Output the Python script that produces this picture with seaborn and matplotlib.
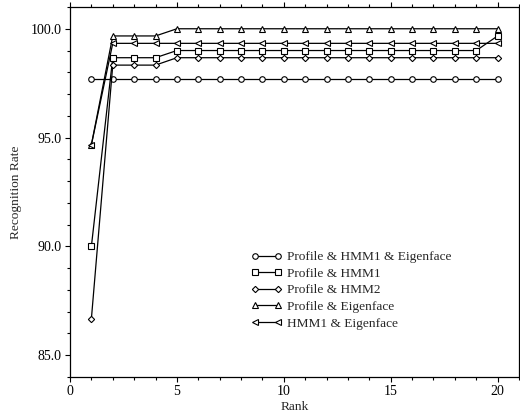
import numpy as np
import pandas as pd
import matplotlib
matplotlib.use("Agg")
import matplotlib.pyplot as plt
import seaborn as sns
from matplotlib.ticker import MultipleLocator, FormatStrFormatter

ranks = list(range(1, 21))

profile_hmm1_eigen = [97.67] * 20
profile_hmm1 = [90.0, 98.67, 98.67, 98.67] + [99.0] * 15 + [99.67]
profile_hmm2 = [86.67, 98.33, 98.33, 98.33] + [98.67] * 16
profile_eigen = [94.67, 99.67, 99.67, 99.67] + [100.0] * 16
hmm1_eigen = [94.67] + [99.33] * 19

series_names = ["Profile & HMM1 & Eigenface", "Profile & HMM1", "Profile & HMM2",
                "Profile & Eigenface", "HMM1 & Eigenface"]
series_values = [profile_hmm1_eigen, profile_hmm1, profile_hmm2, profile_eigen, hmm1_eigen]
markers = ["o", "s", "D", "^", "<"]
marker_sizes = [4, 3.8, 3.2, 4.3, 4.3]

rows = []
for name, vals in zip(series_names, series_values):
    for r, v in zip(ranks, vals):
        rows.append({"Rank": r, "Rate": v, "Method": name})
df = pd.DataFrame(rows)

sns.set_style("ticks")
plt.rcParams["font.family"] = ["Liberation Serif", "DejaVu Serif"]

fig = plt.figure(figsize=(5.2, 4.18), dpi=100)
ax = fig.add_axes([70 / 520, 1 - 377 / 418, (519 - 70) / 520, (377 - 7) / 418])

for name, mk, ms in zip(series_names, markers, marker_sizes):
    sub = df[df["Method"] == name]
    sns.lineplot(data=sub, x="Rank", y="Rate", ax=ax, color="black", linewidth=0.9,
                 marker=mk, markersize=ms, markerfacecolor="white",
                 markeredgecolor="black", markeredgewidth=0.8, label=name)

ax.set_xlim(0, 21)
ax.set_ylim(84, 101)
ax.xaxis.set_major_locator(MultipleLocator(5))
ax.xaxis.set_minor_locator(MultipleLocator(1))
ax.yaxis.set_major_locator(MultipleLocator(5))
ax.yaxis.set_minor_locator(MultipleLocator(1))
ax.yaxis.set_major_formatter(FormatStrFormatter("%.1f"))
ax.tick_params(which="both", direction="out", top=True, right=True, labelsize=10,
               width=0.8, colors="black", pad=2.5)
ax.tick_params(which="major", length=3.5)
ax.tick_params(which="minor", length=2.2)
for s in ax.spines.values():
    s.set_visible(True)
    s.set_linewidth(0.9)
    s.set_color("black")

ax.set_xlabel("Rank", fontsize=9.6, labelpad=2)
ax.set_ylabel("Recognition Rate", fontsize=9.6, labelpad=6)

leg = ax.legend(loc="lower left", bbox_to_anchor=(0.388, 0.11), frameon=False,
                fontsize=9.6, handlelength=2.3, handletextpad=0.4, numpoints=2,
                labelspacing=0.32, borderpad=0)

fig.savefig("out.png", dpi=100)
